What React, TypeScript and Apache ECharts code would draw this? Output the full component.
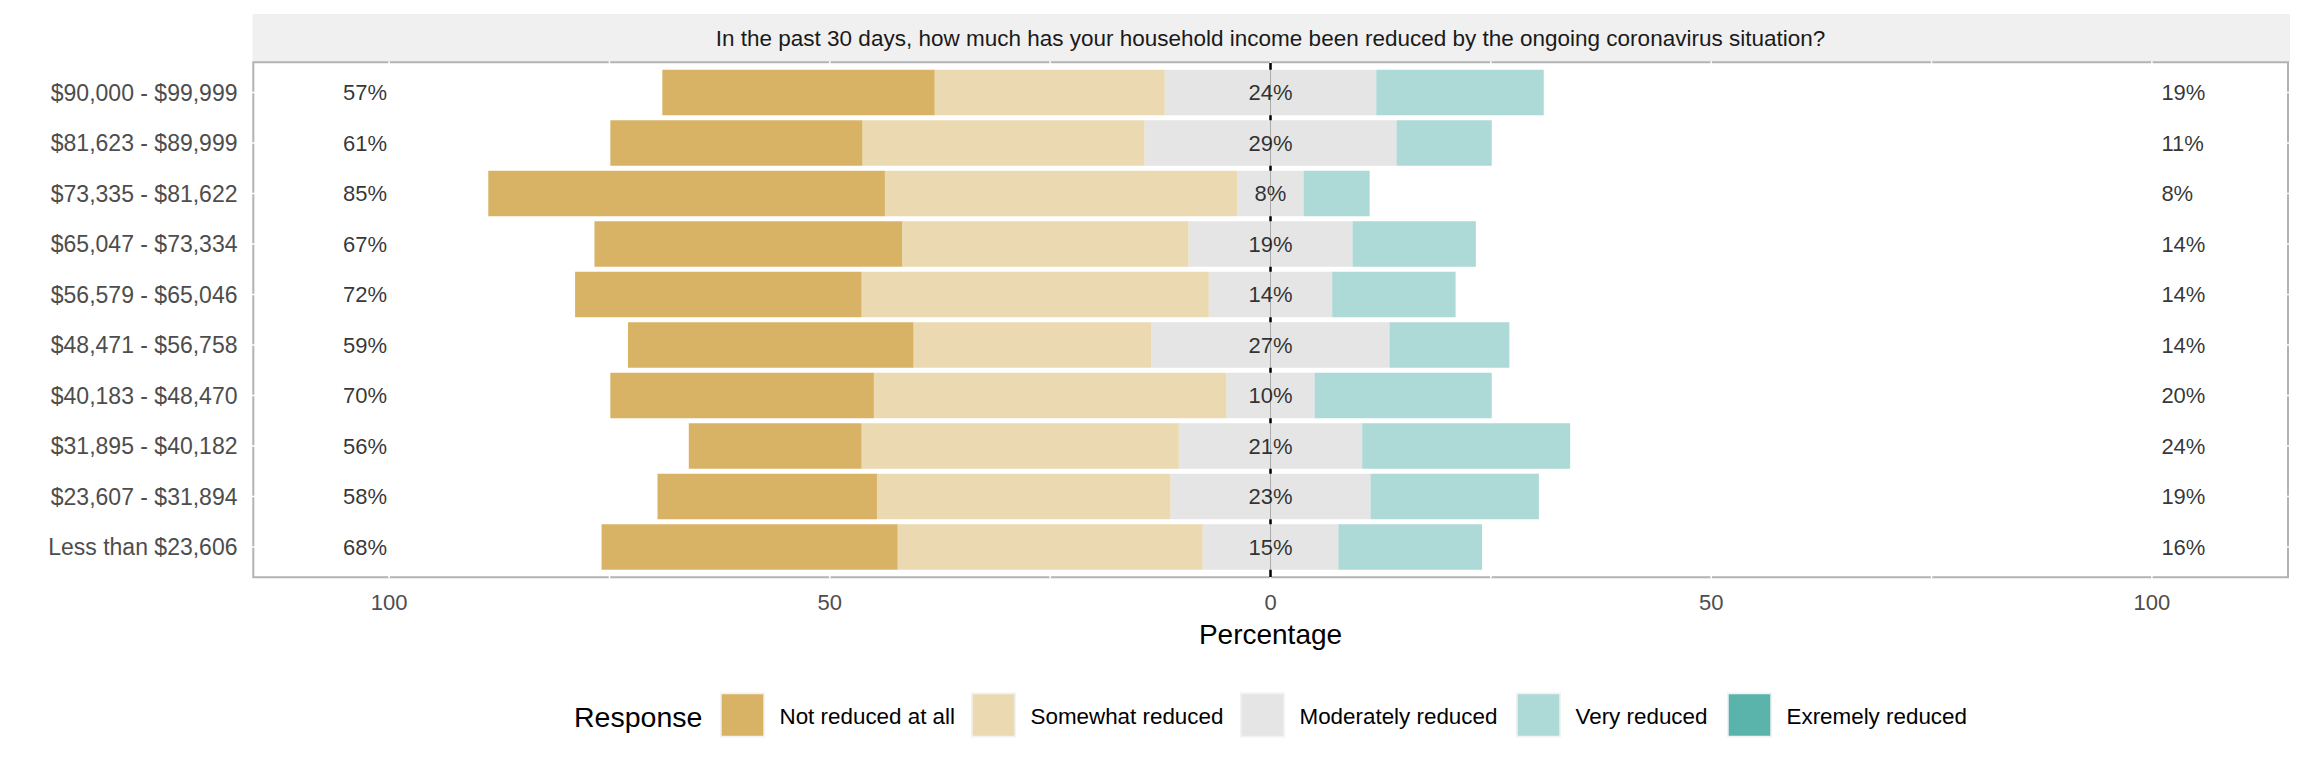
import React, { useEffect, useRef } from "react";
import * as echarts from "echarts";

const title = "In the past 30 days, how much has your household income been reduced by the ongoing coronavirus situation?";
const categories = [
  "$90,000 - $99,999",
  "$81,623 - $89,999",
  "$73,335 - $81,622",
  "$65,047 - $73,334",
  "$56,579 - $65,046",
  "$48,471 - $56,758",
  "$40,183 - $48,470",
  "$31,895 - $40,182",
  "$23,607 - $31,894",
  "Less than $23,606",
];
const responses = ["Not reduced at all", "Somewhat reduced", "Moderately reduced", "Very reduced", "Exremely reduced"];
const notReduced = [30.9, 28.6, 45.0, 34.9, 32.5, 32.4, 29.9, 19.6, 24.9, 33.6];
const somewhat = [26.1, 32.0, 40.0, 32.5, 39.4, 27.0, 40.0, 36.0, 33.3, 34.6];
const moderately = [24.0, 28.6, 7.5, 18.6, 14.0, 27.0, 10.0, 20.8, 22.7, 15.4];
const very = [19.0, 10.8, 7.5, 14.0, 14.0, 13.6, 20.1, 23.6, 19.1, 16.3];
const extremely = [0, 0, 0, 0, 0, 0, 0, 0, 0, 0];
const xTickLabels = [-100, -50, 0, 50, 100];
const xGridTicks = [-100, -75, -50, -25, 0, 25, 50, 75, 100];
const colors = ["#D8B365", "#EBD9B2", "#E5E5E5", "#ADD9D6", "#5AB4AC"];

const FONT = "'Liberation Sans', Arial, Helvetica, sans-serif";

export default function App() {
  const ref = useRef<HTMLDivElement>(null);
  useEffect(() => {
    document.body.style.margin = "0";
    const chart = echarts.init(ref.current!, null, { renderer: "svg" });

    const leftPct = categories.map((_, i) => Math.round(notReduced[i] + somewhat[i]));
    const midPct = categories.map((_, i) => Math.round(moderately[i]));
    const rightPct = categories.map((_, i) => Math.round(very[i] + extremely[i]));

    const bar = (name: string, data: number[], color: string) => ({
      type: "bar",
      name,
      stack: "total",
      data,
      barWidth: "90%",
      itemStyle: { color },
      silent: true,
      z: 3,
    });
    const labelSeries = (x: number, pos: string, dist: number, vals: number[]) => ({
      type: "scatter",
      symbolSize: 0,
      silent: true,
      z: 6,
      data: categories.map((_, i) => [x, i]),
      label: {
        show: true,
        position: pos,
        distance: dist,
        color: "#000000",
        fontSize: 22,
        fontFamily: FONT,
        formatter: (p: any) => vals[p.dataIndex] + "%",
      },
    });

    const gridLeft = 252.5;
    const gridWidth = 2036;
    const panelTop = 62.3;
    const panelBottom = 577.3;
    const unit = (panelBottom - panelTop) / 10.2;

    chart.setOption({
      animation: false,
      textStyle: { fontFamily: FONT },
      grid: {
        left: gridLeft,
        top: panelTop + unit * 0.1,
        width: gridWidth,
        height: unit * 10,
        show: false,
      },
      xAxis: {
        type: "value",
        min: -115.5,
        max: 115.5,
        axisLine: { show: false },
        axisTick: { show: false },
        splitLine: { show: false },
        axisLabel: {
          customValues: xTickLabels,
          formatter: (v: number) => String(Math.abs(v)),
          color: "#4D4D4D",
          fontSize: 22,
          margin: 19,
          fontFamily: FONT,
        },
        name: "Percentage",
        nameLocation: "middle",
        nameGap: 48,
        nameTextStyle: { color: "#000000", fontSize: 28, fontFamily: FONT },
      },
      yAxis: {
        type: "category",
        data: categories,
        inverse: true,
        axisLine: { show: false },
        axisTick: { show: false },
        splitLine: { show: false },
        axisLabel: { color: "#4D4D4D", fontSize: 23, margin: 15, fontFamily: FONT },
      },
      series: [
        bar(responses[2], moderately.map((v) => -v / 2), colors[2]),
        bar(responses[1], somewhat.map((v) => -v), colors[1]),
        bar(responses[0], notReduced.map((v) => -v), colors[0]),
        bar(responses[2], moderately.map((v) => v / 2), colors[2]),
        bar(responses[3], very, colors[3]),
        bar(responses[4], extremely, colors[4]),
        labelSeries(-100, "left", 2, leftPct),
        labelSeries(0, "inside", 0, midPct),
        labelSeries(100, "right", 9.5, rightPct),
      ],
    });

    const px = (v: number) => chart.convertToPixel({ xAxisIndex: 0 }, v) as number;
    const py = (i: number) => chart.convertToPixel({ yAxisIndex: 0 }, categories[i]) as number;

    const gfx: any[] = [];
    // strip
    gfx.push({ type: "rect", z: 0, shape: { x: 252.5, y: 14, width: 2037.5, height: 48.3 }, style: { fill: "#F0F0F0" } });
    gfx.push({
      type: "text",
      z: 1,
      x: 1270.5,
      y: 38,
      style: { text: title, fill: "#1A1A1A", fontSize: 22.5, fontFamily: FONT, align: "center", verticalAlign: "middle" },
    });
    // panel border
    gfx.push({
      type: "rect",
      z: 0,
      shape: { x: 253.3, y: panelTop, width: 2288 - 253.3, height: panelBottom - panelTop },
      style: { fill: "none", stroke: "#B3B3B3", lineWidth: 2 },
    });
    // white grid lines crossing border
    xGridTicks.forEach((v) => {
      const x = px(v);
      gfx.push({ type: "line", z: 1, shape: { x1: x, y1: 61.3, x2: x, y2: 578.5 }, style: { stroke: "#FFFFFF", lineWidth: 1.5 } });
    });
    categories.forEach((_, i) => {
      const y = py(i);
      gfx.push({ type: "line", z: 1, shape: { x1: 251, y1: y, x2: 2290, y2: y }, style: { stroke: "#FFFFFF", lineWidth: 1.5 } });
    });
    // zero line
    const x0 = px(0);
    gfx.push({ type: "line", z: 2, shape: { x1: x0, y1: 63, x2: x0, y2: 577 }, style: { stroke: "#000000", lineWidth: 2.5 } });

    // legend
    gfx.push({
      type: "text",
      z: 1,
      x: 574,
      y: 717,
      style: { text: "Response", fill: "#000000", fontSize: 28.5, fontFamily: FONT, verticalAlign: "middle" },
    });
    const keyX = [720, 971, 1240, 1516, 1727];
    responses.forEach((r, i) => {
      gfx.push({ type: "rect", z: 1, shape: { x: keyX[i], y: 692.5, width: 45, height: 45 }, style: { fill: "#F2F2F2" } });
      gfx.push({ type: "rect", z: 1, shape: { x: keyX[i] + 1.7, y: 694.2, width: 41.6, height: 41.6 }, style: { fill: colors[i] } });
      gfx.push({
        type: "text",
        z: 1,
        x: keyX[i] + 59.5,
        y: 716.5,
        style: { text: r, fill: "#000000", fontSize: 22.4, fontFamily: FONT, verticalAlign: "middle" },
      });
    });

    chart.setOption({ graphic: gfx });

    return () => chart.dispose();
  }, []);
  return <div ref={ref} style={{ width: 2304, height: 768 }} />;
}
